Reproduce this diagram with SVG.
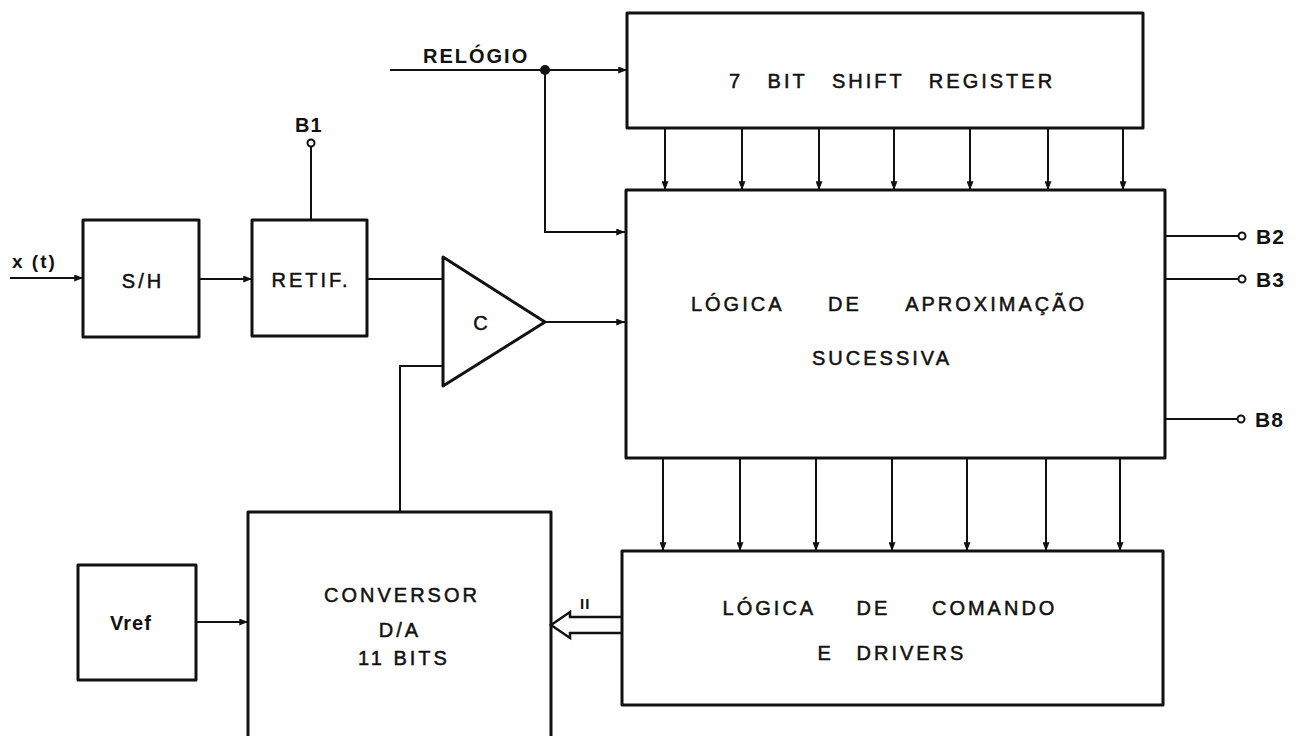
<svg xmlns="http://www.w3.org/2000/svg" width="1301" height="736" viewBox="0 0 1301 736">
<style>
.box{fill:none;stroke:#111;stroke-width:3;stroke-linejoin:round}
.ln{fill:none;stroke:#111;stroke-width:2}
.t{font-family:"Liberation Sans",Arial,sans-serif;font-size:20px;fill:#111;stroke:#111;stroke-width:0.5;letter-spacing:3px}
.b{font-weight:bold;stroke-width:0}
.m{text-anchor:middle}
.pin{fill:#fff;stroke:#111;stroke-width:2}
</style>
<defs>
<marker id="ah" viewBox="0 0 10 8" refX="10" refY="4" markerWidth="9" markerHeight="7" markerUnits="userSpaceOnUse" orient="auto">
<path d="M0,0 L10,4 L0,8 Z" fill="#111"/>
</marker>
</defs>
<rect width="1301" height="736" fill="#fff"/>

<g id="connectors">
<line class="ln" x1="10" y1="278" x2="83" y2="278" marker-end="url(#ah)"/>
<line class="ln" x1="199" y1="279" x2="252" y2="279" marker-end="url(#ah)"/>
<line class="ln" x1="311" y1="147" x2="311" y2="220"/>
<circle class="pin" cx="311" cy="143" r="3.5"/>
<line class="ln" x1="367" y1="279" x2="443" y2="279"/>
<line class="ln" x1="545" y1="322" x2="625" y2="322" marker-end="url(#ah)"/>
<polyline class="ln" points="443,366 400,366 400,512"/>
<line class="ln" x1="390" y1="70" x2="627" y2="70" marker-end="url(#ah)"/>
<circle cx="545" cy="70" r="5" fill="#111"/>
<polyline class="ln" points="545,70 545,232 625,232" marker-end="url(#ah)"/>
<g id="sr-arrows">
<line class="ln" x1="665" y1="128" x2="665" y2="190" marker-end="url(#ah)"/>
<line class="ln" x1="742" y1="128" x2="742" y2="190" marker-end="url(#ah)"/>
<line class="ln" x1="819" y1="128" x2="819" y2="190" marker-end="url(#ah)"/>
<line class="ln" x1="894" y1="128" x2="894" y2="190" marker-end="url(#ah)"/>
<line class="ln" x1="970" y1="128" x2="970" y2="190" marker-end="url(#ah)"/>
<line class="ln" x1="1048" y1="128" x2="1048" y2="190" marker-end="url(#ah)"/>
<line class="ln" x1="1123" y1="128" x2="1123" y2="190" marker-end="url(#ah)"/>
</g>
<g id="lg-arrows">
<line class="ln" x1="663" y1="458" x2="663" y2="551" marker-end="url(#ah)"/>
<line class="ln" x1="740" y1="458" x2="740" y2="551" marker-end="url(#ah)"/>
<line class="ln" x1="816" y1="458" x2="816" y2="551" marker-end="url(#ah)"/>
<line class="ln" x1="892" y1="458" x2="892" y2="551" marker-end="url(#ah)"/>
<line class="ln" x1="967" y1="458" x2="967" y2="551" marker-end="url(#ah)"/>
<line class="ln" x1="1046" y1="458" x2="1046" y2="551" marker-end="url(#ah)"/>
<line class="ln" x1="1120" y1="458" x2="1120" y2="551" marker-end="url(#ah)"/>
</g>
<line class="ln" x1="1165" y1="236" x2="1238" y2="236"/>
<circle class="pin" cx="1242" cy="236" r="3.5"/>
<line class="ln" x1="1165" y1="279" x2="1238" y2="279"/>
<circle class="pin" cx="1242" cy="279" r="3.5"/>
<line class="ln" x1="1165" y1="419" x2="1237" y2="419"/>
<circle class="pin" cx="1241" cy="419" r="3.5"/>
<line class="ln" x1="196" y1="622" x2="248" y2="622" marker-end="url(#ah)"/>
<path d="M622,617 H570 V612 L551,625 L570,638 V633 H622" fill="#fff" stroke="#111" stroke-width="2.5" stroke-linejoin="miter"/>
</g>

<text class="t b" x="12" y="268" style="font-size:19px;letter-spacing:2px">x (t)</text>
<text class="t b" x="295" y="132" style="font-size:20px;letter-spacing:1px">B1</text>
<text class="t b" x="423" y="63" style="letter-spacing:2px">RELÓGIO</text>
<text class="t b" x="1256" y="244" style="font-size:21px;letter-spacing:1px">B2</text>
<text class="t b" x="1256" y="287" style="font-size:21px;letter-spacing:1px">B3</text>
<text class="t b" x="1255" y="427" style="font-size:21px;letter-spacing:1px">B8</text>
<text class="t b" x="580" y="609" style="font-size:15px;letter-spacing:1px">II</text>

<g id="sh">
<rect class="box" x="83" y="220" width="116" height="117"/>
<text class="t m" x="143" y="288">S/H</text>
</g>
<g id="retif">
<rect class="box" x="252" y="220" width="115" height="116"/>
<text class="t m" x="311" y="287">RETIF.</text>
</g>
<g id="comparator">
<polygon class="box" points="443,257 443,386 545,322"/>
<text class="t m" x="482" y="330">C</text>
</g>
<g id="shift-register">
<rect class="box" x="627" y="13" width="516" height="115"/>
<text class="t m" x="892" y="88" style="word-spacing:16px">7 BIT SHIFT REGISTER</text>
</g>
<g id="logic">
<rect class="box" x="626" y="190" width="539" height="268"/>
<text class="t m" x="889" y="311" style="word-spacing:36px">LÓGICA DE APROXIMAÇÃO</text>
<text class="t m" x="882" y="365">SUCESSIVA</text>
</g>
<g id="command">
<rect class="box" x="622" y="551" width="541" height="154"/>
<text class="t m" x="890" y="615" style="word-spacing:33px">LÓGICA DE COMANDO</text>
<text class="t m" x="892" y="660" style="word-spacing:14px">E DRIVERS</text>
</g>
<g id="dac">
<path class="box" d="M248,745 V512 H551 V745"/>
<text class="t m" x="402" y="602">CONVERSOR</text>
<text class="t m" x="400" y="637">D/A</text>
<text class="t m" x="404" y="665">11 BITS</text>
</g>
<g id="vref">
<rect class="box" x="78" y="565" width="118" height="115"/>
<text class="t b m" x="131" y="630" style="letter-spacing:1px">Vref</text>
</g>
</svg>
